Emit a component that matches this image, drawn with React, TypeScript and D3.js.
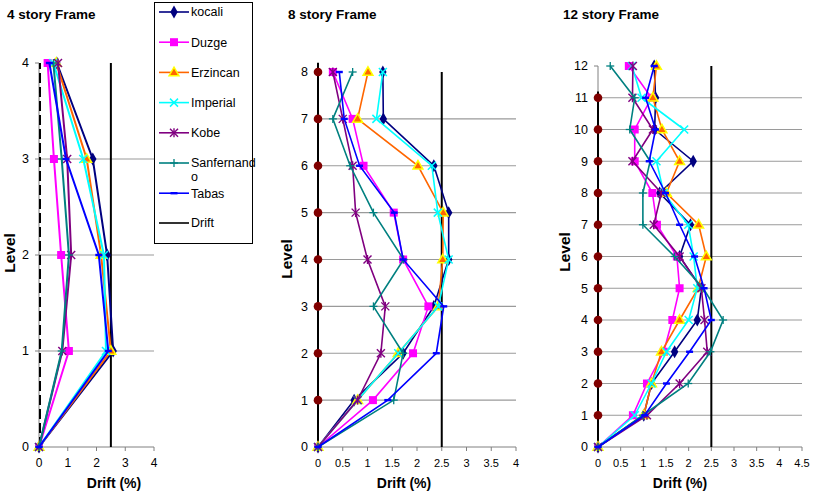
import React from "react";
import * as d3 from "d3";

const seriesNames = ["kocali", "Duzge", "Erzincan", "Imperial", "Kobe", "Sanfernando", "Tabas"];
const seriesColors = ["#000080", "#FF00FF", "#FF6600", "#00FFFF", "#800080", "#008080", "#0000FF"];
const seriesMarkers = ["diamond", "square", "triangle", "x", "star", "plus", "dash"];

// 4 story frame (levels 0..4)
const levels4 = [0, 1, 2, 3, 4];
const kocali4 = [0, 2.58, 2.37, 1.87, 0.62];
const duzge4 = [0, 1.04, 0.77, 0.52, 0.3];
const erzincan4 = [0, 2.5, 2.16, 1.66, 0.6];
const imperial4 = [0, 2.33, 2.26, 1.54, 0.5];
const kobe4 = [0, 0.81, 1.12, 0.98, 0.66];
const sanfernando4 = [0, 0.79, 1.04, 0.79, 0.5];
const tabas4 = [0, 2.41, 2.08, 0.94, 0.36];

// 8 story frame (levels 0..8)
const levels8 = [0, 1, 2, 3, 4, 5, 6, 7, 8];
const kocali8 = [0, 0.73, 1.72, 2.34, 2.64, 2.64, 2.34, 1.32, 1.31];
const duzge8 = [0, 1.11, 1.92, 2.23, 1.72, 1.53, 0.92, 0.7, 0.3];
const erzincan8 = [0, 0.8, 1.62, 2.43, 2.52, 2.53, 2.02, 0.8, 1.01];
const imperial8 = [0, 0.8, 1.62, 2.43, 2.64, 2.42, 2.3, 1.18, 1.31];
const kobe8 = [0, 0.8, 1.27, 1.36, 1.0, 0.76, 0.7, 0.5, 0.3];
const sanfernando8 = [0, 1.53, 1.72, 1.12, 1.73, 1.12, 0.65, 0.3, 0.7];
const tabas8 = [0, 1.41, 2.39, 2.54, 1.72, 1.54, 0.84, 0.53, 0.43];
const axisDots8 = [1, 2, 3, 4, 5, 6, 7, 8];

// 12 story frame (levels 0..12)
const levels12 = [0, 1, 2, 3, 4, 5, 6, 7, 8, 9, 10, 11, 12];
const kocali12 = [0, 1.01, 1.18, 1.69, 2.19, 2.28, 1.8, 2.04, 1.36, 2.1, 1.25, 1.27, 1.24];
const duzge12 = [0, 0.77, 1.08, 1.45, 1.64, 1.8, 1.74, 1.3, 1.2, 0.81, 0.81, 1.18, 0.68];
const erzincan12 = [0, 1.01, 1.18, 1.4, 1.8, 2.21, 2.39, 2.22, 1.51, 1.8, 1.41, 1.21, 1.29];
const imperial12 = [0, 0.81, 1.18, 1.51, 2.0, 2.19, 2.11, 1.99, 1.45, 1.29, 1.9, 0.96, 0.75];
const kobe12 = [0, 1.08, 1.8, 2.41, 2.35, 2.28, 1.8, 1.23, 1.4, 0.76, 1.21, 0.76, 0.77];
const sanfernando12 = [0, 0.99, 1.99, 2.48, 2.76, 2.32, 1.69, 0.99, 0.99, 1.15, 0.7, 0.81, 0.27];
const tabas12 = [0, 1.03, 1.51, 2.02, 2.5, 2.34, 2.13, 1.8, 1.49, 1.13, 1.27, 1.05, 1.24];
const axisDots12 = [1, 2, 3, 4, 5, 6, 7, 8, 9, 10, 11];

const driftLimit = 2.5;
const xTicks4 = [0, 1, 2, 3, 4];
const xTicksHalf = [0, 0.5, 1, 1.5, 2, 2.5, 3, 3.5, 4];
const xTicksHalf45 = [0, 0.5, 1, 1.5, 2, 2.5, 3, 3.5, 4, 4.5];

const FONT = "Arial, 'Liberation Sans', Helvetica, sans-serif";

function Marker({ type, x, y, color }: { type: string; x: number; y: number; color: string }) {
  if (type === "diamond") {
    return <path d={d3.symbol(d3.symbolDiamond, 48)() as string} transform={`translate(${x},${y})`} fill={color} />;
  }
  if (type === "square") {
    return <rect x={x - 4} y={y - 4} width={8} height={8} fill={color} />;
  }
  if (type === "triangle") {
    return (
      <path
        d={d3.symbol(d3.symbolTriangle, 42)() as string}
        transform={`translate(${x},${y + 0.5})`}
        fill="#FF6600"
        stroke="#FFFF00"
        strokeWidth={1.5}
      />
    );
  }
  if (type === "x") {
    return (
      <g stroke={color} strokeWidth={1.5}>
        <line x1={x - 4} y1={y - 4} x2={x + 4} y2={y + 4} />
        <line x1={x - 4} y1={y + 4} x2={x + 4} y2={y - 4} />
      </g>
    );
  }
  if (type === "star") {
    return (
      <g stroke={color} strokeWidth={1.4}>
        <line x1={x - 4} y1={y - 4} x2={x + 4} y2={y + 4} />
        <line x1={x - 4} y1={y + 4} x2={x + 4} y2={y - 4} />
        <line x1={x} y1={y - 4.5} x2={x} y2={y + 4.5} />
      </g>
    );
  }
  if (type === "plus") {
    return (
      <g stroke={color} strokeWidth={1.3}>
        <line x1={x - 4} y1={y} x2={x + 4} y2={y} />
        <line x1={x} y1={y - 4} x2={x} y2={y + 4} />
      </g>
    );
  }
  if (type === "dash") {
    return <rect x={x - 3.5} y={y - 1.2} width={7} height={2.4} fill={color} />;
  }
  return null;
}

type PanelProps = {
  title: string;
  titleX: number;
  levels: number[];
  series: number[][];
  xMax: number;
  xTicks: number[];
  xRange: [number, number];
  yTop: number;
  tickFont: number;
  xLabelX: number;
  levelLabelX: number;
  levelLabelY: number;
  dashedAxis: boolean;
  axisDots: number[];
  lineWidth: number;
};

function Panel(p: PanelProps) {
  const yBottom = 447;
  const maxLevel = d3.max(p.levels) as number;
  const x = d3.scaleLinear().domain([0, p.xMax]).range(p.xRange);
  const y = d3.scaleLinear().domain([0, maxLevel]).range([yBottom, p.yTop]);
  const line = d3
    .line<[number, number]>()
    .x((d) => x(d[0]))
    .y((d) => y(d[1]));
  const x0 = x(0);
  const xR = p.xRange[1];
  return (
    <g fontFamily={FONT}>
      <text x={p.titleX} y={19} fontSize={13.5} fontWeight="bold">
        {p.title}
      </text>
      {/* gridlines */}
      {p.levels
        .filter((l) => l > 0 && l < maxLevel)
        .map((l) => (
          <line key={"g" + l} x1={x0} x2={xR} y1={y(l)} y2={y(l)} stroke="#9a9a9a" strokeWidth={1.2} />
        ))}
      {/* axes */}
      <line x1={x0} x2={x0} y1={y(0)} y2={y(maxLevel)} stroke="#808080" strokeWidth={1} />
      <line x1={x0} x2={xR} y1={y(0)} y2={y(0)} stroke="#808080" strokeWidth={1} />
      {p.levels.map((l) => (
        <g key={"yt" + l}>
          <line x1={x0 - 4} x2={x0} y1={y(l)} y2={y(l)} stroke="#808080" />
          <text x={x0 - 10} y={y(l)} dy="0.35em" textAnchor="end" fontSize={12.5}>
            {l}
          </text>
        </g>
      ))}
      {p.xTicks.map((t) => (
        <g key={"xt" + t}>
          <line x1={x(t)} x2={x(t)} y1={y(0)} y2={y(0) + 4} stroke="#808080" />
          <text x={x(t)} y={467} textAnchor="middle" fontSize={p.tickFont}>
            {t}
          </text>
        </g>
      ))}
      <text x={p.xLabelX} y={488} textAnchor="middle" fontSize={14} fontWeight="bold">
        Drift (%)
      </text>
      <text
        transform={`translate(${p.levelLabelX},${p.levelLabelY}) rotate(-90)`}
        textAnchor="middle"
        fontSize={15.5}
        fontWeight="bold"
      >
        Level
      </text>
      {/* drift limit */}
      <line x1={x(driftLimit)} x2={x(driftLimit)} y1={y(0)} y2={y(maxLevel)} stroke="#000" strokeWidth={2} />
      {/* zero drift line */}
      {p.dashedAxis ? (
        <line x1={x0 + 1} x2={x0 + 1} y1={y(0)} y2={y(maxLevel)} stroke="#000" strokeWidth={2} strokeDasharray="10,4" />
      ) : (
        <g>
          <line
            x1={x0}
            x2={x0}
            y1={y(0)}
            y2={y((d3.max(p.axisDots) as number) + 0.2)}
            stroke="#000"
            strokeWidth={2}
          />
          {p.axisDots.map((l) => (
            <circle key={"ad" + l} cx={x0} cy={y(l)} r={4.3} fill="#800000" />
          ))}
        </g>
      )}
      {/* series */}
      {p.series.map((vals, i) => {
        const pts: [number, number][] = vals.map((v, j) => [v, p.levels[j]]);
        return (
          <g key={"s" + i}>
            <path d={line(pts) as string} fill="none" stroke={seriesColors[i]} strokeWidth={p.lineWidth} />
            {pts.map((d, j) => (
              <Marker key={j} type={seriesMarkers[i]} x={x(d[0])} y={y(d[1])} color={seriesColors[i]} />
            ))}
          </g>
        );
      })}
    </g>
  );
}

function Legend() {
  const left = 154.5;
  const top = 2.5;
  const rowY = (i: number) => 12 + i * 30.2;
  return (
    <g fontFamily={FONT}>
      <rect x={left} y={top} width={98} height={241} fill="#fff" stroke="#000" strokeWidth={1} />
      {seriesNames.map((name, i) => (
        <g key={name}>
          <line x1={159} x2={189} y1={rowY(i)} y2={rowY(i)} stroke={seriesColors[i]} strokeWidth={1.6} />
          <Marker type={seriesMarkers[i]} x={174} y={rowY(i)} color={seriesColors[i]} />
          {name === "Sanfernando" ? (
            <text x={191} y={rowY(i)} dy="0.35em" fontSize={12.5}>
              <tspan x={191}>Sanfernand</tspan>
              <tspan x={191} dy={13.5}>
                o
              </tspan>
            </text>
          ) : (
            <text x={191} y={rowY(i)} dy="0.35em" fontSize={12.5}>
              {name}
            </text>
          )}
        </g>
      ))}
      <line x1={159} x2={189} y1={223} y2={223} stroke="#000" strokeWidth={1.6} />
      <text x={191} y={223} dy="0.35em" fontSize={12.5}>
        Drift
      </text>
    </g>
  );
}

export default function App() {
  const s4 = [kocali4, duzge4, erzincan4, imperial4, kobe4, sanfernando4, tabas4];
  const s8 = [kocali8, duzge8, erzincan8, imperial8, kobe8, sanfernando8, tabas8];
  const s12 = [kocali12, duzge12, erzincan12, imperial12, kobe12, sanfernando12, tabas12];
  return (
    <svg
      width={813}
      height={495}
      style={{ position: "absolute", left: 0, top: 0, background: "#fff" }}
    >
      <rect width={813} height={495} fill="#fff" />
      <Panel
        title="4 story Frame"
        titleX={7}
        levels={levels4}
        series={s4}
        xMax={4}
        xTicks={xTicks4}
        xRange={[39, 154]}
        yTop={63}
        tickFont={12}
        xLabelX={114}
        levelLabelX={15}
        levelLabelY={253}
        dashedAxis={true}
        axisDots={[]}
        lineWidth={2}
      />
      <Panel
        title="8 story Frame"
        titleX={288}
        levels={levels8}
        series={s8}
        xMax={4}
        xTicks={xTicksHalf}
        xRange={[318, 516]}
        yTop={72}
        tickFont={11}
        xLabelX={404}
        levelLabelX={292}
        levelLabelY={259}
        dashedAxis={false}
        axisDots={axisDots8}
        lineWidth={1.6}
      />
      <Panel
        title="12 story Frame"
        titleX={563}
        levels={levels12}
        series={s12}
        xMax={4.5}
        xTicks={xTicksHalf45}
        xRange={[598, 802]}
        yTop={66}
        tickFont={11}
        xLabelX={680}
        levelLabelX={570}
        levelLabelY={252}
        dashedAxis={false}
        axisDots={axisDots12}
        lineWidth={1.6}
      />
      <Legend />
    </svg>
  );
}
